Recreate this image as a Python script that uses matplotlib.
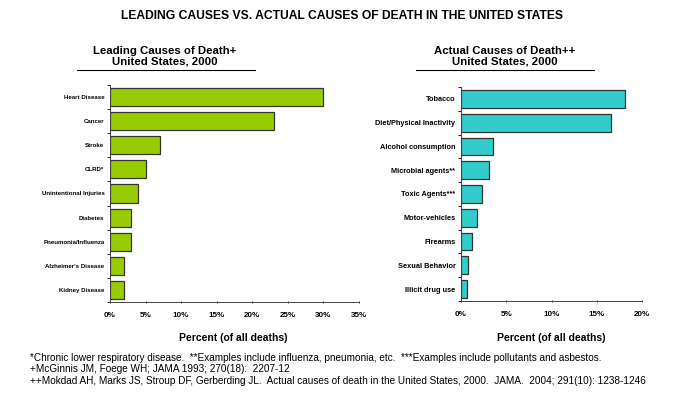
import matplotlib.pyplot as plt
from matplotlib.ticker import FixedLocator, PercentFormatter

plt.rcParams['font.family'] = ['Liberation Sans', 'DejaVu Sans']

# ---- data ----
leading_causes = ['Heart Disease', 'Cancer', 'Stroke', 'CLRD*', 'Unintentional Injuries',
                  'Diabetes', 'Pneumonia/Influenza', "Alzheimer's Disease", 'Kidney Disease']
leading_pct = [30, 23, 7, 5, 4, 3, 3, 2, 2]

actual_causes = ['Tobacco', 'Diet/Physical Inactivity', 'Alcohol consumption', 'Microbial agents**',
                 'Toxic Agents***', 'Motor-vehicles', 'Firearms', 'Sexual Behavior', 'Illicit drug use']
actual_pct = [18.1, 16.6, 3.5, 3.1, 2.3, 1.8, 1.2, 0.8, 0.7]

footnotes = [
    "*Chronic lower respiratory disease.  **Examples include influenza, pneumonia, etc.  ***Examples include pollutants and asbestos.",
    "+McGinnis JM, Foege WH; JAMA 1993; 270(18):  2207-12",
    "++Mokdad AH, Marks JS, Stroup DF, Gerberding JL.  Actual causes of death in the United States, 2000.  JAMA.  2004; 291(10): 1238-1246",
]

fig = plt.figure(figsize=(6.84, 3.95), dpi=100)
W, H = 684, 395


def px_axes(x0, y0, x1, y1):
    return fig.add_axes([x0 / W, 1 - y1 / H, (x1 - x0) / W, (y1 - y0) / H])


def draw_panel(ax, labels, vals, color, xmax, step, label_size):
    n = len(labels)
    ypos = list(range(n))
    ax.barh(ypos, vals, height=0.75, color=color, edgecolor='#333333', linewidth=0.9)
    ax.set_ylim(n - 0.5, -0.5)
    ax.set_xlim(0, xmax)
    ax.set_yticks(ypos)
    ax.set_yticklabels(labels, fontsize=label_size, fontweight='bold')
    ax.tick_params(axis='y', which='major', length=0, pad=4)
    ax.yaxis.set_minor_locator(FixedLocator([i - 0.5 for i in range(n + 1)]))
    ax.tick_params(axis='y', which='minor', length=2, width=0.6, direction='out')
    ax.set_xticks([i * step for i in range(int(xmax / step) + 1)])
    ax.xaxis.set_major_formatter(PercentFormatter(decimals=0))
    ax.tick_params(axis='x', labelsize=5.8, length=2, width=0.6, direction='inout', pad=6)
    for lbl in ax.get_xticklabels():
        lbl.set_fontweight('bold')
    for s in ['top', 'right']:
        ax.spines[s].set_visible(False)
    for s in ['left', 'bottom']:
        ax.spines[s].set_linewidth(0.7)
        ax.spines[s].set_color('#444444')


ax1 = px_axes(110, 85, 359, 302)
draw_panel(ax1, leading_causes, leading_pct, '#99CC00', 35, 5, 4.4)

ax2 = px_axes(461, 87, 642, 301)
draw_panel(ax2, actual_causes, actual_pct, '#33CCCC', 20, 5, 5.3)

fig.text(342 / W, 1 - 16 / H, 'LEADING CAUSES VS. ACTUAL CAUSES OF DEATH IN THE UNITED STATES',
         ha='center', va='center', fontsize=8.7, fontweight='bold')

fig.text(165 / W, 1 - 56 / H, 'Leading Causes of Death+\nUnited States, 2000',
         ha='center', va='center', fontsize=8.2, fontweight='bold', linespacing=1.1)
fig.text(505 / W, 1 - 56 / H, 'Actual Causes of Death++\nUnited States, 2000',
         ha='center', va='center', fontsize=8.2, fontweight='bold', linespacing=1.1)
fig.add_artist(plt.Line2D([77 / W, 255 / W], [1 - 69.5 / H, 1 - 69.5 / H], color='black', lw=0.8))
fig.add_artist(plt.Line2D([416 / W, 594 / W], [1 - 69.5 / H, 1 - 69.5 / H], color='black', lw=0.8))

fig.text(233 / W, 1 - 338 / H, 'Percent (of all deaths)', ha='center', va='center',
         fontsize=7.5, fontweight='bold')
fig.text(551 / W, 1 - 338 / H, 'Percent (of all deaths)', ha='center', va='center',
         fontsize=7.5, fontweight='bold')

for i, line in enumerate(footnotes):
    fig.text(30 / W, 1 - (358 + i * 11.5) / H, line, ha='left', va='center', fontsize=7.2)

fig.savefig('out.png', dpi=100)
